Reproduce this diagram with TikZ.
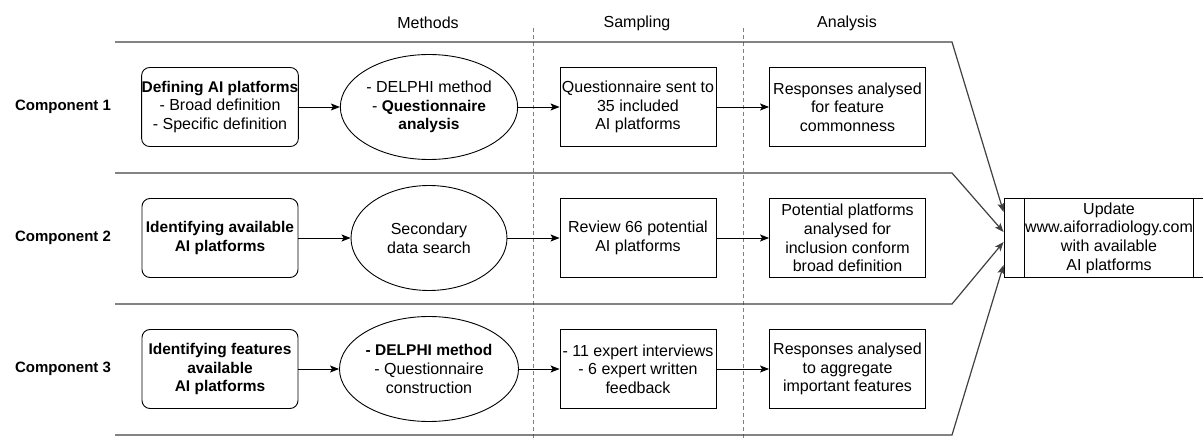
\documentclass[tikz,border=0pt]{standalone}
\usepackage{fontspec}
\setmainfont{Liberation Sans}
\usetikzlibrary{arrows.meta}
\usetikzlibrary{shapes.geometric}
\newcommand{\hl}[1]{{\fontsize{15.5}{18.7}\selectfont\bfseries #1}}

\begin{document}
\begin{tikzpicture}[x=1pt,y=-1pt,
  font=\fontsize{16}{18.7}\selectfont,
  >={Stealth[length=9pt,width=7pt,inset=2pt]},
  stagebox/.style={draw, line width=0.9pt, minimum width=156pt, minimum height=79pt, align=center, inner sep=0pt},
  startbox/.style={stagebox, rounded corners=8pt},
  method/.style={draw, ellipse, line width=0.9pt, minimum width=156pt, minimum height=105pt, align=center, inner sep=0pt},
  complabel/.style={font=\fontsize{15}{18}\selectfont\bfseries},
  lane/.style={line width=1.2pt, draw=black!75},
  phase/.style={draw=gray, line width=0.7pt, dash pattern=on 4pt off 3pt},
  flow/.style={->, line width=0.9pt}]
\useasboundingbox (0,0) rectangle (1203,441);

% column headers and separators
\node (methods) at (428,23) {Methods};
\node (sampling) at (637,23) {Sampling};
\node (analysis) at (847,23) {Analysis};
\draw[phase] (533,28) -- (533,441);
\draw[phase] (743,28) -- (743,441);

% component 1
\node[complabel] (comp1) at (63,107) {Component 1};
\node[startbox] (def) at (220,107) {\hl{Defining AI platforms}\\- Broad definition\\- Specific definition};
\node[method] (delphi1) at (429,107) {- DELPHI method\\- \hl{Questionnaire}\\\hl{analysis}};
\node[stagebox] (quest) at (638,107) {Questionnaire sent to\\35 included\\AI platforms};
\node[stagebox] (common) at (847.5,107) {Responses analysed\\for feature\\commonness};

% component 2
\node[complabel] (comp2) at (63,238) {Component 2};
\node[startbox] (ident) at (220,238) {\hl{Identifying available}\\\hl{AI platforms}};
\node[method] (search) at (429,238) {Secondary\\data search};
\node[stagebox] (review) at (638,238) {Review 66 potential\\AI platforms};
\node[stagebox] (incl) at (847.5,238) {Potential platforms\\analysed for\\inclusion conform\\broad definition};

% component 3
\node[complabel] (comp3) at (63,369) {Component 3};
\node[startbox] (feat) at (220,369) {\hl{Identifying features}\\\hl{available}\\\hl{AI platforms}};
\node[method] (delphi3) at (429,369) {\hl{- DELPHI method}\\- Questionnaire\\construction};
\node[stagebox] (expert) at (638,369) {- 11 expert interviews\\- 6 expert written\\feedback};
\node[stagebox] (aggr) at (847.5,369) {Responses analysed\\to aggregate\\important features};

% output
\node[stagebox, minimum width=210pt] (upd) at (1109,238) {Update\\www.aiforradiology.com\\with available\\AI platforms};
\draw[line width=0.9pt] ([xshift=21pt]upd.north west) -- ([xshift=21pt]upd.south west);
\draw[line width=0.9pt] ([xshift=-21pt]upd.north east) -- ([xshift=-21pt]upd.south east);

\draw[flow] (def) -- (delphi1);
\draw[flow] (delphi1) -- (quest);
\draw[flow] (quest) -- (common);
\draw[flow] (ident) -- (search);
\draw[flow] (search) -- (review);
\draw[flow] (review) -- (incl);
\draw[flow] (feat) -- (delphi3);
\draw[flow] (delphi3) -- (expert);
\draw[flow] (expert) -- (aggr);

% swimlane borders
\draw[lane, ->] (115,42) -- (952,42) -- ([yshift=26pt]upd.west);
\draw[lane, ->] (115,173) -- (952,173) -- ([yshift=6pt]upd.west);
\draw[lane, ->] (115,304) -- (952,304) -- ([yshift=-4pt]upd.west);
\draw[lane, ->] (115,435) -- (952,435) -- ([yshift=-27pt]upd.west);
\end{tikzpicture}
\end{document}
